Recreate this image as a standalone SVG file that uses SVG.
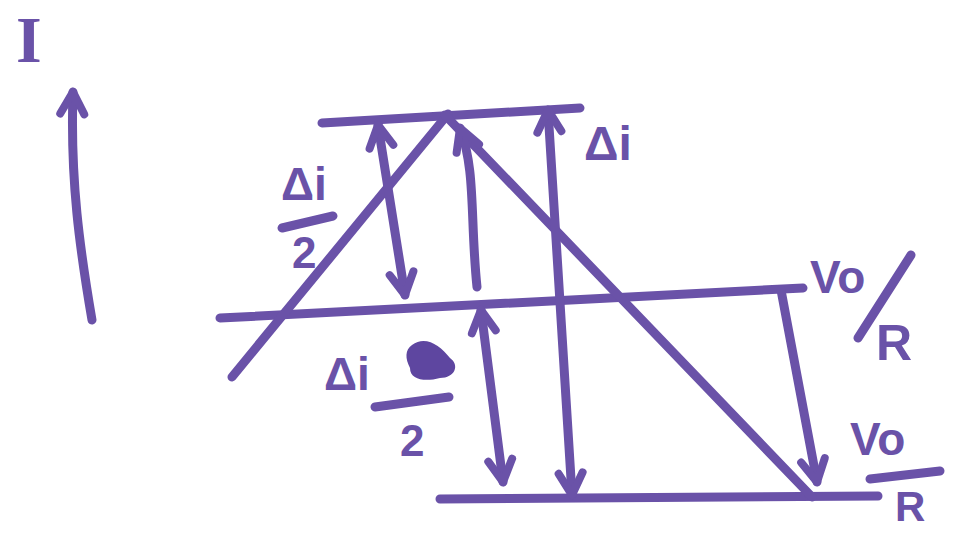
<svg xmlns="http://www.w3.org/2000/svg" width="954" height="535" viewBox="0 0 954 535">
<defs>
<style>
.ln{fill:none;stroke:#6a52a8;stroke-width:9;stroke-linecap:round;stroke-linejoin:round}
.tx{fill:#6a52a8;font-family:"Liberation Sans",Arial,sans-serif;font-weight:bold}
.sf{fill:#6a52a8;font-family:"Liberation Serif","Times New Roman",serif;font-weight:bold}
</style>
<marker id="ah" viewBox="0 0 30 30" markerWidth="30" markerHeight="30" refX="26" refY="15" orient="auto-start-reverse" markerUnits="userSpaceOnUse" overflow="visible">
<path d="M4,3 L26,15 L4,27" fill="none" stroke="#6a52a8" stroke-width="8" stroke-linecap="round" stroke-linejoin="round"/>
</marker>
</defs>
<rect width="954" height="535" fill="#ffffff"/>
<g id="connectors">
<path class="ln" d="M322,123 L580,108"/>
<path class="ln" d="M220,318 L803,288"/>
<path class="ln" d="M440,499 L878,496"/>
<path class="ln" d="M232,377 L448,114"/>
<path class="ln" d="M445,115 L812,497"/>
<path class="ln" d="M378,125 L405,295" marker-start="url(#ah)" marker-end="url(#ah)"/>
<path class="ln" d="M477,287 C470,220 476,170 460,128" marker-end="url(#ah)"/>
<path class="ln" d="M481,310 L503,482" marker-start="url(#ah)" marker-end="url(#ah)"/>
<path class="ln" d="M548,110 L572,495" marker-start="url(#ah)" marker-end="url(#ah)"/>
<path class="ln" d="M781,290 L817,482" marker-end="url(#ah)"/>
<path class="ln" d="M92,320 C80,250 70,180 73,92" marker-end="url(#ah)"/>
</g>
<g id="label-I"><text class="sf" x="16" y="62" font-size="66">I</text></g>
<g id="label-di-top"><text class="tx" x="584" y="160" font-size="48">Δi</text></g>
<g id="label-di2-left">
<text class="tx" x="281" y="200" font-size="46">Δi</text>
<path class="ln" d="M282,228 L333,216"/>
<text class="tx" x="292" y="268" font-size="44">2</text>
</g>
<g id="label-di2-low">
<text class="tx" x="324" y="390" font-size="46">Δi</text>
<path d="M412,345 C425,335 440,345 450,358 C460,365 455,378 440,378 C425,382 410,380 410,368 C405,358 405,350 412,345 Z" fill="#5e46a0"/>
<path class="ln" d="M375,407 L449,397"/>
<text class="tx" x="400" y="456" font-size="44">2</text>
</g>
<g id="label-vor-top">
<text class="tx" x="810" y="293" font-size="46">Vo</text>
<path class="ln" d="M911,255 L858,338"/>
<text class="tx" x="876" y="360" font-size="50">R</text>
</g>
<g id="label-vor-bottom">
<text class="tx" x="850" y="455" font-size="46">Vo</text>
<path class="ln" d="M870,479 L940,471"/>
<text class="tx" x="895" y="521" font-size="42">R</text>
</g>
</svg>
